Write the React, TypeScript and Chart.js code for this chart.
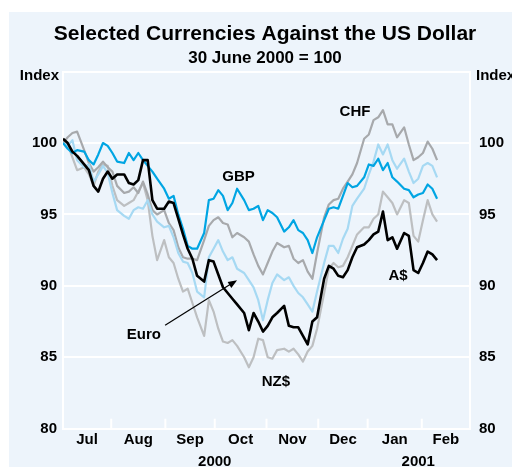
import React, { useEffect, useRef } from 'react';
import { Chart, registerables } from 'chart.js';

Chart.register(...registerables);

// x positions: weekday index counted from 1 July 2000
const weekdays = [
  0, 2, 4, 6, 9, 11, 13, 15, 17, 19,
  21, 23, 26, 28, 30, 32, 34, 36, 38, 40,
  43, 45, 47, 49, 51, 53, 55, 57, 60, 62,
  64, 66, 68, 70, 72, 74, 77, 79, 81, 83,
  85, 87, 89, 91, 94, 96, 98, 100, 102, 104,
  106, 108, 111, 113, 115, 117, 119, 121, 123, 125,
  128, 130, 132, 134, 136, 138, 140, 142, 145, 147,
  149, 151, 153, 155, 157, 159,
];

const audValues = [
  100.3, 100.0, 99.4, 99.1, 98.5, 98.1, 97.0, 96.6, 97.5, 98.0,
  97.5, 97.8, 97.8, 97.2, 97.1, 97.4, 98.8, 98.8, 96.0, 95.4,
  95.4, 95.9, 95.8, 94.7, 93.6, 92.6, 91.9, 90.7, 90.3, 91.8,
  91.7, 90.8, 89.9, 89.5, 89.1, 88.7, 88.1, 86.9, 88.1, 87.5,
  86.8, 87.2, 87.8, 88.1, 88.6, 87.2, 87.1, 87.1, 86.5, 85.9,
  87.5, 87.8, 90.5, 91.4, 91.2, 90.7, 90.6, 91.1, 92.0, 92.7,
  92.9, 93.2, 93.6, 93.8, 95.2, 93.2, 93.4, 92.6, 93.7, 93.5,
  91.1, 90.9, 91.6, 92.4, 92.2, 91.8,
];

const gbpValues = [
  100.0, 99.6, 99.3, 99.5, 99.4, 98.8, 98.5, 99.2, 100.0, 99.8,
  99.3, 98.7, 98.6, 99.3, 98.8, 99.3, 98.8, 98.4, 98.0, 97.5,
  96.8, 96.1, 96.3, 95.0, 94.0, 92.8, 92.6, 92.6, 93.7, 96.0,
  96.1, 96.7, 96.3, 95.3, 95.8, 96.8, 96.0, 95.3, 95.4, 95.6,
  94.6, 95.3, 95.1, 94.8, 93.8, 94.1, 94.6, 93.9, 93.7, 93.2,
  92.3, 93.4, 94.6, 95.4, 95.5, 95.4, 96.3, 97.2, 96.9, 97.0,
  97.6, 98.5, 98.4, 98.9, 98.1, 98.6, 97.6, 97.3, 96.8, 96.7,
  96.2, 96.4, 96.5, 97.1, 96.8, 96.1,
];

const eurValues = [
  100.0, 99.8, 100.2, 98.8, 98.3, 98.5, 97.3, 97.8, 98.4, 97.9,
  96.5, 95.3, 94.9, 94.7, 95.3, 95.5, 95.4, 96.0, 95.0, 94.5,
  94.1, 94.2, 93.4, 92.3, 91.7, 91.6, 90.9, 89.6, 89.2, 92.0,
  92.6, 93.2, 92.4, 91.8, 92.0, 91.2, 90.9, 90.4, 89.9, 89.0,
  87.6, 89.0, 90.2, 90.8, 90.4, 90.6, 90.0, 89.5, 89.2, 88.7,
  88.2, 89.6, 91.6, 92.8, 92.8, 92.3, 93.3, 94.0, 95.6, 96.1,
  96.8, 97.8, 98.7, 99.9, 99.2, 99.9, 98.8, 98.2, 98.9, 98.0,
  97.2, 97.5, 98.4, 98.6, 98.4, 97.6,
];

const chfValues = [
  100.0, 100.4, 100.7, 100.8, 99.5, 98.6, 98.0, 98.3, 98.7, 98.3,
  98.0, 97.0, 96.5, 96.6, 96.9, 96.5, 97.3, 96.4, 95.3, 95.0,
  95.3, 94.4, 93.9, 92.7, 92.0, 91.9, 91.9, 91.8, 93.2, 94.2,
  94.6, 94.8, 94.4, 94.3, 93.4, 93.7, 93.4, 93.1, 92.2, 91.4,
  90.8, 91.6, 92.4, 93.0, 92.7, 92.8, 91.9, 91.6, 91.8, 91.0,
  90.5, 92.3, 94.8, 95.7, 96.0, 96.1, 96.8, 97.3, 97.8, 98.6,
  100.3, 100.6, 101.6, 101.8, 102.3, 101.3, 101.3, 100.4, 101.1, 99.9,
  98.8, 99.0, 99.3, 100.1, 99.6, 98.8,
];

const nzdValues = [
  100.0, 99.9, 99.0, 98.1, 98.3, 97.8, 97.0, 98.0, 98.5, 98.4,
  97.0, 96.0, 95.6, 95.8, 96.0, 96.6, 97.2, 96.0, 93.5, 91.8,
  93.2, 92.0, 91.6, 90.5, 89.6, 89.8, 88.8, 87.8, 86.5, 89.0,
  88.2, 87.0, 86.1, 86.0, 86.2, 85.8, 85.0, 84.3, 85.0, 86.3,
  86.2, 85.0, 84.9, 85.5, 85.6, 85.4, 85.6, 85.2, 84.7, 85.4,
  85.8, 87.0, 89.5, 91.2, 91.6, 91.3, 91.4, 92.0, 92.8, 93.6,
  94.1, 94.1, 94.7, 95.0, 96.6, 96.2, 95.8, 95.0, 96.0, 95.8,
  93.5, 93.1, 94.6, 96.0, 95.0, 94.5,
];

const monthLabels = ['Jul', 'Aug', 'Sep', 'Oct', 'Nov', 'Dec', 'Jan', 'Feb'];
const monthCentres = [10.25, 32, 54, 75.5, 97.5, 119, 141, 162.75];
const monthBoundaries = [20.5, 43.5, 64.5, 86.5, 108.5, 129.5, 152.5];
const yearLabels = ['2000', '2001'];
const yearCentres = [64.5, 151];
const yTicks = [80, 85, 90, 95, 100, 105];

const seriesNames = ['A$', 'GBP', 'Euro', 'CHF', 'NZ$'];
const annotationX = [142.4, 74.6, 34.4, 124.1, 90.5];
const annotationY = [90.7, 97.6, 86.6, 102.2, 83.3];
const arrowFrom = [43.4, 87.25];
const arrowTo = [74, 90.4];

const FONT = '"Liberation Sans", Arial, Helvetica, sans-serif';

const decorPlugin = {
  id: 'decor',
  afterDatasetsDraw(chart: any) {
    const { ctx, chartArea, scales } = chart;
    const x = scales.x;
    const y = scales.y;
    ctx.save();
    // inward month tick marks
    ctx.strokeStyle = '#ffffff';
    ctx.lineWidth = 2;
    monthBoundaries.forEach((b) => {
      const px = x.getPixelForValue(b);
      ctx.beginPath();
      ctx.moveTo(px, chartArea.bottom);
      ctx.lineTo(px, chartArea.bottom - 10);
      ctx.stroke();
    });
    // series labels
    ctx.fillStyle = '#000';
    ctx.font = `bold 15px ${FONT}`;
    ctx.textAlign = 'center';
    ctx.textBaseline = 'middle';
    seriesNames.forEach((n, i) => {
      ctx.fillText(n, x.getPixelForValue(annotationX[i]), y.getPixelForValue(annotationY[i]));
    });
    // arrow
    const x0 = x.getPixelForValue(arrowFrom[0]);
    const y0 = y.getPixelForValue(arrowFrom[1]);
    const x1 = x.getPixelForValue(arrowTo[0]);
    const y1 = y.getPixelForValue(arrowTo[1]);
    const ang = Math.atan2(y1 - y0, x1 - x0);
    ctx.strokeStyle = '#000';
    ctx.lineWidth = 1.2;
    ctx.beginPath();
    ctx.moveTo(x0, y0);
    ctx.lineTo(x1 - 6 * Math.cos(ang), y1 - 6 * Math.sin(ang));
    ctx.stroke();
    ctx.beginPath();
    ctx.moveTo(x1, y1);
    ctx.lineTo(x1 - 9 * Math.cos(ang) + 3.5 * Math.sin(ang), y1 - 9 * Math.sin(ang) - 3.5 * Math.cos(ang));
    ctx.lineTo(x1 - 9 * Math.cos(ang) - 3.5 * Math.sin(ang), y1 - 9 * Math.sin(ang) + 3.5 * Math.cos(ang));
    ctx.closePath();
    ctx.fill();
    // Index labels
    ctx.font = `bold 15px ${FONT}`;
    ctx.textAlign = 'right';
    ctx.fillText('Index', chartArea.left - 4, chartArea.top + 4);
    ctx.textAlign = 'left';
    ctx.fillText('Index', chartArea.right + 6, chartArea.top + 4);
    ctx.restore();
  },
};

const tickFont = { family: FONT, size: 15, weight: 'bold' as const };

export default function App() {
  const canvasRef = useRef<HTMLCanvasElement | null>(null);

  useEffect(() => {
    const canvas = canvasRef.current;
    if (!canvas) return;
    const mk = (vals: number[]) => weekdays.map((w, i) => ({ x: w, y: vals[i] }));
    const chart = new Chart(canvas, {
      type: 'line',
      data: {
        datasets: [
          { label: 'A$', data: mk(audValues), borderColor: '#000000', borderWidth: 2.6 },
          { label: 'GBP', data: mk(gbpValues), borderColor: '#00A5E3', borderWidth: 2.2 },
          { label: 'Euro', data: mk(eurValues), borderColor: '#A6D9F3', borderWidth: 2.2 },
          { label: 'CHF', data: mk(chfValues), borderColor: '#A7A9AC', borderWidth: 2.2 },
          { label: 'NZ$', data: mk(nzdValues), borderColor: '#BDBFC1', borderWidth: 2.2 },
        ].map((d) => ({ ...d, pointRadius: 0, tension: 0, fill: false, borderJoinStyle: 'round' as const })),
      },
      options: {
        animation: false,
        responsive: false,
        devicePixelRatio: 1,
        layout: { padding: { left: 18, right: 0, top: 0, bottom: 0 } },
        plugins: {
          legend: { display: false },
          tooltip: { enabled: false },
          title: {
            display: true,
            text: 'Selected Currencies Against the US Dollar',
            color: '#000',
            font: { family: FONT, size: 21, weight: 'bold' },
            padding: { top: 22, bottom: 0 },
          },
          subtitle: {
            display: true,
            text: '30 June 2000 = 100',
            color: '#000',
            font: { family: FONT, size: 17, weight: 'bold' },
            padding: { top: 1, bottom: 3 },
          },
        },
        scales: {
          x: {
            type: 'linear',
            position: 'bottom',
            min: 0,
            max: 173,
            weight: 0,
            afterBuildTicks: (s: any) => { s.ticks = monthCentres.map((v) => ({ value: v })); },
            afterFit: (s: any) => { s.height = 22; },
            ticks: {
              autoSkip: false,
              maxRotation: 0,
              minRotation: 0,
              padding: 2,
              color: '#000',
              font: tickFont,
              callback: (_v: any, i: number) => monthLabels[i],
            },
            grid: { display: false, drawTicks: false },
            border: { display: true, color: '#ffffff', width: 2 },
          },
          x2: {
            type: 'linear',
            axis: 'x',
            position: 'bottom',
            min: 0,
            max: 173,
            weight: 1,
            afterBuildTicks: (s: any) => { s.ticks = yearCentres.map((v) => ({ value: v })); },
            afterFit: (s: any) => { s.height = 16.3; },
            ticks: {
              autoSkip: false,
              maxRotation: 0,
              minRotation: 0,
              padding: 2,
              color: '#000',
              font: tickFont,
              callback: (_v: any, i: number) => yearLabels[i],
            },
            grid: { display: false, drawTicks: false },
            border: { display: false },
          },
          y: {
            type: 'linear',
            position: 'left',
            min: 80,
            max: 105,
            afterBuildTicks: (s: any) => { s.ticks = yTicks.map((v) => ({ value: v })); },
            afterFit: (s: any) => { s.width = 45; },
            ticks: {
              padding: 6,
              color: '#000',
              font: tickFont,
              callback: (v: any) => (v === 105 ? '' : String(v)),
            },
            grid: { color: '#ffffff', lineWidth: 2, drawTicks: false },
            border: { display: true, color: '#ffffff', width: 2 },
          },
          y2: {
            type: 'linear',
            position: 'right',
            min: 80,
            max: 105,
            afterBuildTicks: (s: any) => { s.ticks = yTicks.map((v) => ({ value: v })); },
            afterFit: (s: any) => { s.width = 42; },
            ticks: {
              padding: 9,
              color: '#000',
              font: tickFont,
              callback: (v: any) => (v === 105 ? '' : String(v)),
            },
            grid: { display: false, drawTicks: false },
            border: { display: true, color: '#ffffff', width: 2 },
          },
        },
      },
      plugins: [decorPlugin],
    } as any);
    return () => chart.destroy();
  }, []);

  return (
    <div style={{ position: 'fixed', left: 0, top: 0, width: 512, height: 467, background: '#ffffff', overflow: 'hidden' }}>
      <div style={{ position: 'absolute', left: 9, top: 12, right: 0, bottom: 0, background: '#EDF4FB' }} />
      <canvas ref={canvasRef} width={512} height={467} style={{ position: 'absolute', left: 0, top: 0, width: 512, height: 467 }} />
    </div>
  );
}
